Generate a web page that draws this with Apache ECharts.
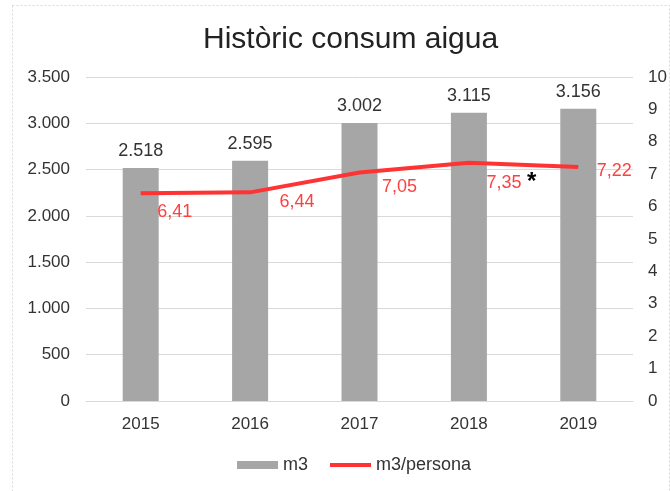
<!DOCTYPE html>
<html>
<head>
<meta charset="utf-8">
<script src="https://cdn.jsdelivr.net/npm/echarts@6/dist/echarts.min.js"></script>
<style>
html,body{margin:0;padding:0;background:#fff;}
#c{width:670px;height:491px;}
</style>
</head>
<body>
<div id="c"></div>
<script>
const years = ['2015','2016','2017','2018','2019'];
const m3 = [2518, 2595, 3002, 3115, 3156];
const m3Persona = [6.41, 6.44, 7.05, 7.35, 7.22];
const leftTicks = [0, 3500, 500];
const rightTicks = [0, 10, 1];

const FONT = 'Liberation Sans, Arial, sans-serif';
const fmtThousands = v => String(v).replace(/\B(?=(\d{3})+(?!\d))/g, '.');
const fmtComma = v => v.toFixed(2).replace('.', ',');
const lineLabelOffsets = [[34,19],[47,10],[40,14],[35,20],[36,4]];

const chart = echarts.init(document.getElementById('c'));
chart.setOption({
  animation: false,
  backgroundColor: '#fff',
  textStyle: { fontFamily: FONT },
  title: {
    text: 'Històric consum aigua',
    left: 198, top: 20,
    textStyle: { fontSize: 30, fontWeight: 'normal', color: '#222', fontFamily: FONT }
  },
  graphic: [
    { type: 'rect', left: 10, top: 3, shape: { width: 657, height: 500 },
      style: { fill: 'none', stroke: '#d9d9d9', lineWidth: 1, lineDash: [2,2] }, silent: true },
    { type: 'text', left: 527, top: 170, style: { text: '*', fontSize: 24, fontWeight: 'bold', fill: '#000', fontFamily: FONT } }
  ],
  legend: {
    bottom: 12, left: 232, itemGap: 22,
    itemWidth: 41, itemHeight: 8,
    textStyle: { fontSize: 18, color: '#333' },
    data: [
      { name: 'm3', icon: 'rect' },
      { name: 'm3/persona', icon: 'path://M0,0h40v4h-40z' }
    ]
  },
  grid: { left: 86, right: 37, top: 77, bottom: 90 },
  xAxis: {
    type: 'category', data: years,
    axisLine: { lineStyle: { color: '#d9d9d9' } },
    axisTick: { show: false },
    axisLabel: { fontSize: 17, color: '#333', margin: 15 }
  },
  yAxis: [
    { type: 'value', min: leftTicks[0], max: leftTicks[1], interval: leftTicks[2],
      axisLine: { show: false }, axisTick: { show: false },
      splitLine: { lineStyle: { color: '#d9d9d9' } },
      axisLabel: { fontSize: 17, color: '#333', margin: 16, formatter: fmtThousands } },
    { type: 'value', min: rightTicks[0], max: rightTicks[1], interval: rightTicks[2],
      axisLine: { show: false }, axisTick: { show: false },
      splitLine: { show: false },
      axisLabel: { fontSize: 17, color: '#333', margin: 15 } }
  ],
  series: [
    { name: 'm3', type: 'bar', data: m3, barWidth: 36,
      itemStyle: { color: '#a6a6a6' },
      label: { show: true, position: 'top', distance: 8, fontSize: 18, color: '#333', formatter: p => fmtThousands(p.value) } },
    { name: 'm3/persona', type: 'line', yAxisIndex: 1,
      data: m3Persona.map((v, i) => ({ value: v, label: { offset: lineLabelOffsets[i] } })),
      showSymbol: true, symbol: 'circle', symbolSize: 0.01,
      lineStyle: { color: '#ff3333', width: 4 },
      itemStyle: { color: '#ff3333' },
      label: { show: true, position: 'inside', fontSize: 18, color: '#ff4040', formatter: p => fmtComma(p.value) } }
  ]
});
</script>
</body>
</html>
